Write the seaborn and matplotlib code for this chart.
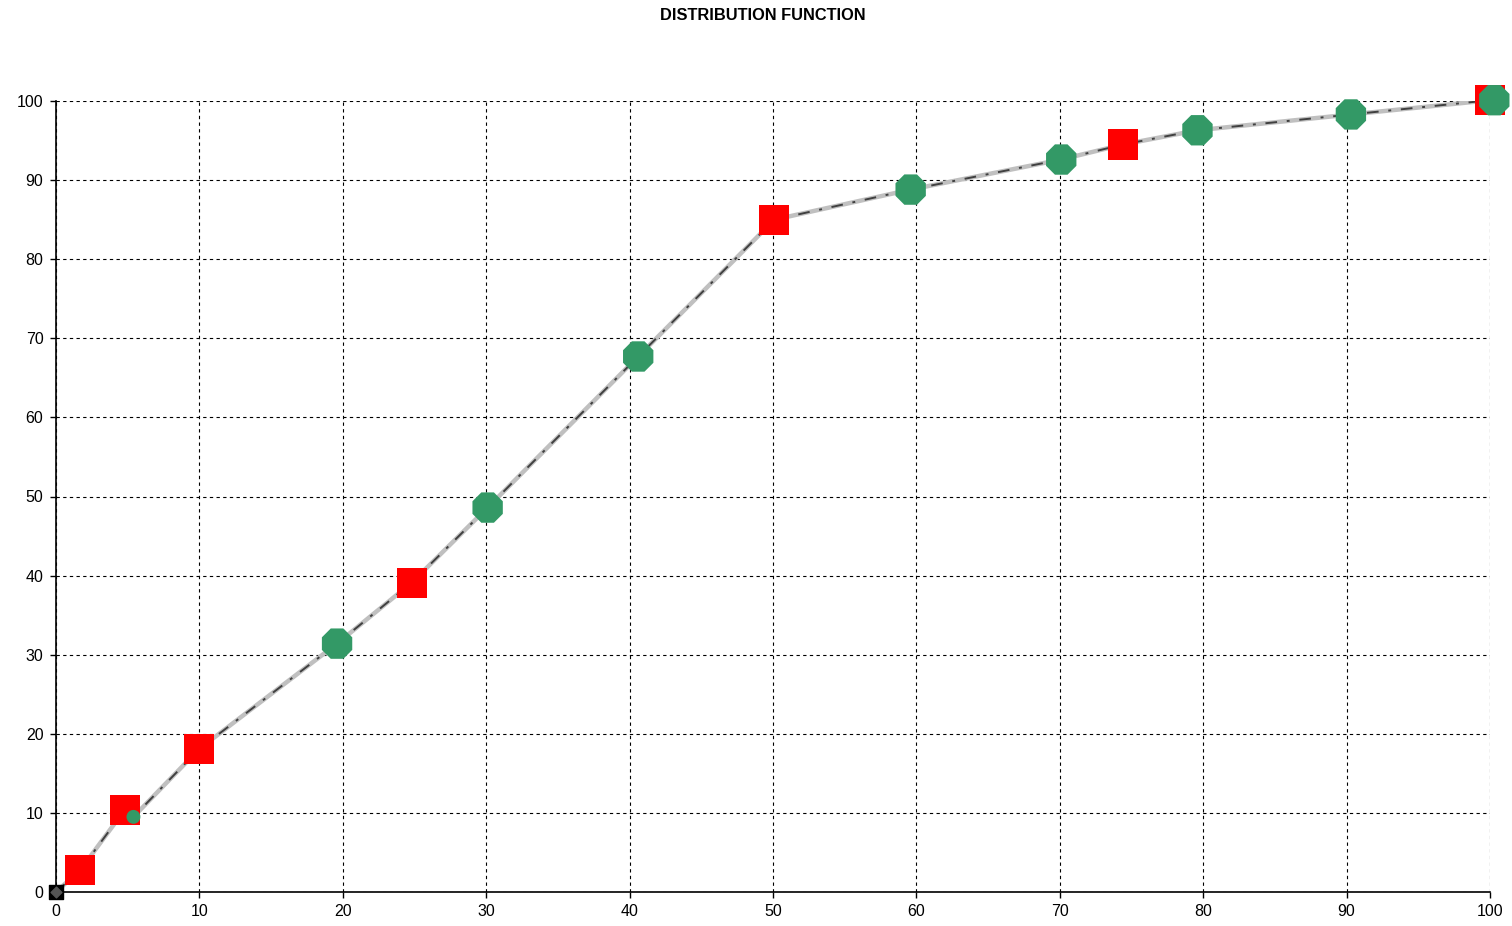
import matplotlib
matplotlib.use("Agg")

import matplotlib.pyplot as plt
import pandas as pd
import seaborn as sns

# ── Data ───────────────────────────────────────────────────────────────
# red squares
red_x = [0.0, 1.7, 4.8, 10.0, 24.8, 50.1, 74.4, 100.0]
red_y = [0.0, 2.8, 10.4, 18.1, 39.1, 85.0, 94.5, 100.1]

# green octagons (the one at x=5.4 is drawn small)
green_x = [0.0, 5.4, 19.6, 30.1, 40.6, 59.6, 70.1, 79.6, 90.3, 100.3]
green_y = [0.0, 9.5, 31.4, 48.6, 67.7, 88.8, 92.6, 96.3, 98.3, 100.1]
green_big = [False, False, True, True, True, True, True, True, True, True]

origin_x = [0.0]
origin_y = [0.0]

x_ticks = list(range(0, 101, 10))
y_ticks = list(range(0, 101, 10))

RED = "#ff0000"
GREEN = "#339966"
GREY = "#c0c0c0"
DARK = "#404040"

sns.set_theme(style="white")
plt.rcParams["font.family"] = ["Liberation Sans", "DejaVu Sans"]

fig = plt.figure(figsize=(15.12, 9.26), dpi=100)
ax = fig.add_axes([56 / 1512, 1 - 892 / 926, (1490 - 56) / 1512, (892 - 101) / 926])

red = pd.DataFrame({"x": red_x, "y": red_y})
green = pd.DataFrame({"x": green_x, "y": green_y, "big": green_big})

# both curves run through every measured point
curve = (pd.concat([red, green[["x", "y"]]])
         .drop_duplicates("x")
         .sort_values("x")
         .reset_index(drop=True))

sns.lineplot(data=curve, x="x", y="y", sort=False, ax=ax, color=GREY,
             linewidth=3.2, zorder=3)
sns.lineplot(data=curve, x="x", y="y", sort=False, ax=ax, color=DARK,
             linewidth=1.4, zorder=4)
ax.lines[-1].set_dashes([6, 5, 1.5, 5])

sns.scatterplot(data=red.iloc[1:], x="x", y="y", ax=ax, marker="s", s=470,
                color=RED, edgecolor="none", linewidth=0, zorder=5, clip_on=False)
big = green[green["big"]]
small = green[~green["big"] & (green["x"] > 0)]
sns.scatterplot(data=big, x="x", y="y", ax=ax, marker="8", s=560,
                color=GREEN, edgecolor="none", linewidth=0, zorder=6, clip_on=False)
sns.scatterplot(data=small, x="x", y="y", ax=ax, marker="o", s=100,
                color=GREEN, edgecolor="none", linewidth=0, zorder=6, clip_on=False)

ax.scatter(origin_x, origin_y, marker="s", s=110, color="black", zorder=7, clip_on=False)
ax.scatter(origin_x, origin_y, marker="D", s=30, color="#555555", zorder=8, clip_on=False)

ax.set_xlim(0, 100)
ax.set_ylim(0, 100)
ax.set_xticks(x_ticks)
ax.set_yticks(y_ticks)
ax.set_xlabel("")
ax.set_ylabel("")
ax.grid(True, color="black", linestyle=(0, (3, 3)), linewidth=0.8)
ax.set_axisbelow(True)

for side in ("top", "right"):
    ax.spines[side].set_visible(False)
for side in ("left", "bottom"):
    ax.spines[side].set_color("black")
    ax.spines[side].set_linewidth(1.2)
    ax.spines[side].set_zorder(2)

ax.tick_params(axis="both", which="major", direction="out", length=4, width=1,
               color="black", labelsize=11.5, labelcolor="black", pad=5,
               bottom=True, left=True)

fig.suptitle("DISTRIBUTION FUNCTION", x=763 / 1512, y=1 - 8 / 926,
             fontsize=11.8, fontweight="bold", va="top", color="black")

fig.savefig("out.png", dpi=100, facecolor="white")
